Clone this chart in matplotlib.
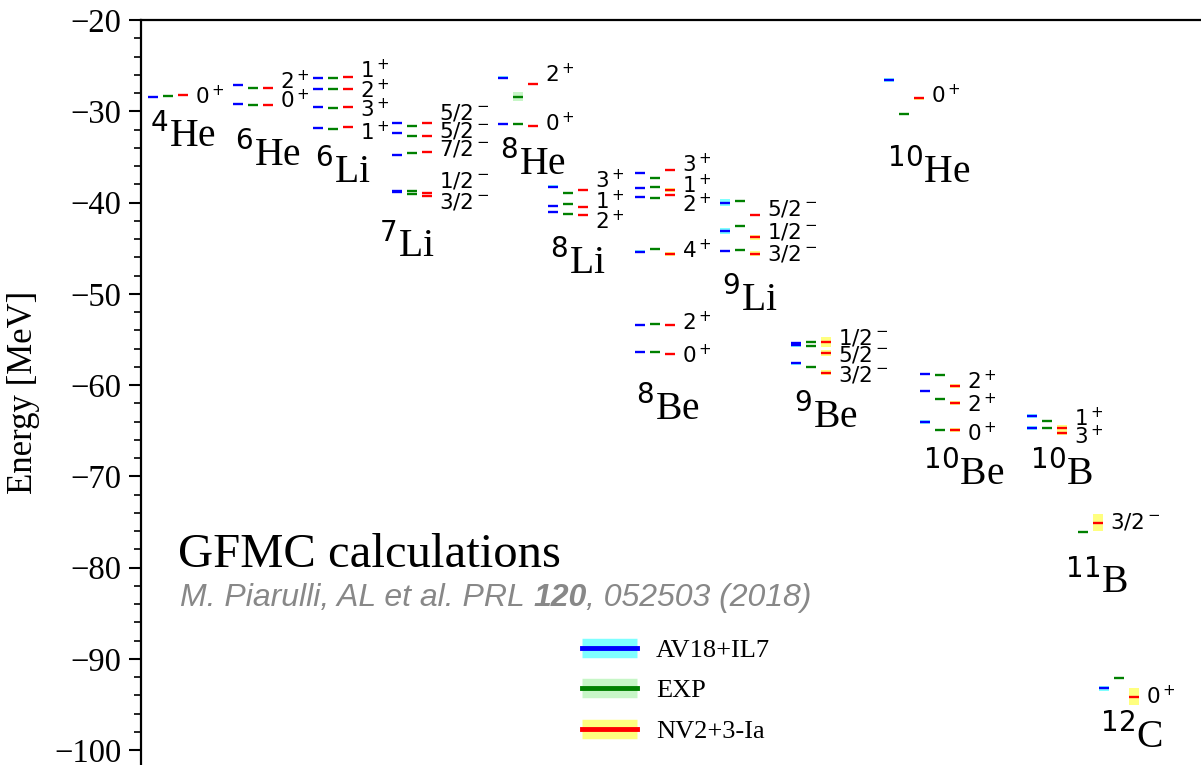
import matplotlib
matplotlib.use("Agg")
import matplotlib.pyplot as plt
from matplotlib.lines import Line2D
from matplotlib.ticker import MultipleLocator

plt.rcParams['font.family'] = 'serif'
plt.rcParams['font.serif'] = ['Liberation Serif', 'DejaVu Serif']
plt.rcParams['mathtext.fontset'] = 'dejavusans'
plt.rcParams['axes.unicode_minus'] = True

# ---------------------------------------------------------------- data (MeV)
nuclei = [r'$^{4}$He', r'$^{6}$He', r'$^{6}$Li', r'$^{7}$Li', r'$^{8}$He',
          r'$^{8}$Li', r'$^{8}$Be', r'$^{9}$Li', r'$^{9}$Be', r'$^{10}$He',
          r'$^{10}$Be', r'$^{10}$B', r'$^{11}$B', r'$^{12}$C']

spins = [
    [r'$0^+$'],
    [r'$2^+$', r'$0^+$'],
    [r'$1^+$', r'$2^+$', r'$3^+$', r'$1^+$'],
    [r'$5/2^-$', r'$5/2^-$', r'$7/2^-$', r'$1/2^-$', r'$3/2^-$'],
    [r'$2^+$', r'$0^+$'],
    [r'$3^+$', r'$1^+$', r'$2^+$'],
    [r'$3^+$', r'$1^+$', r'$2^+$', r'$4^+$', r'$2^+$', r'$0^+$'],
    [r'$5/2^-$', r'$1/2^-$', r'$3/2^-$'],
    [r'$1/2^-$', r'$5/2^-$', r'$3/2^-$'],
    [r'$0^+$'],
    [r'$2^+$', r'$2^+$', r'$0^+$'],
    [r'$1^+$', r'$3^+$'],
    [r'$3/2^-$'],
    [r'$0^+$'],
]

# energies at which the spin-parity tags are written
spin_label_E = [
    [-28.4],
    [-26.76, -28.77],
    [-25.48, -27.75, -29.75, -32.31],
    [-30.16, -32.13, -34.14, -37.64, -39.95],
    [-26.0, -31.3],
    [-37.6, -39.9, -42.05],
    [-35.78, -38.08, -40.16, -45.28, -53.13, -56.71],
    [-40.71, -43.2, -45.68],
    [-54.89, -56.71, -58.9],
    [-28.3],
    [-59.64, -62.12, -65.3],
    [-63.62, -65.67],
    [-74.98],
    [-94.08],
]

# AV18+IL7 GFMC energies and Monte Carlo errors
av18_E = [
    [-28.40],
    [-27.12, -29.21],
    [-26.39, -27.60, -29.57, -31.80],
    [-31.25, -32.42, -34.79, -38.75, -38.90],
    [-26.32, -31.43],
    [-38.27, -40.35, -41.08],
    [-36.80, -38.45, -39.43, -45.39, -53.42, -56.42],
    [-40.02, -43.09, -45.32],
    [-55.45, -55.60, -57.63],
    [-26.58],
    [-58.80, -60.62, -64.02],
    [-63.36, -64.68],
    [],
    [-93.24],
]
av18_err = [
    [0.05],
    [0.05, 0.05],
    [0.05, 0.05, 0.05, 0.05],
    [0.05, 0.12, 0.15, 0.05, 0.05],
    [0.15, 0.05],
    [0.15, 0.05, 0.05],
    [0.05, 0.05, 0.12, 0.15, 0.05, 0.05],
    [0.40, 0.35, 0.05],
    [0.20, 0.20, 0.15],
    [0.20],
    [0.05, 0.05, 0.20],
    [0.20, 0.20],
    [],
    [0.30],
]

# experimental energies and widths
exp_E = [
    [-28.30],
    [-27.42, -29.28],
    [-26.32, -27.60, -29.64, -31.95],
    [-31.62, -32.68, -34.54, -38.70, -39.05],
    [-28.41, -31.43],
    [-39.00, -40.20, -41.30],
    [-37.28, -38.34, -39.54, -45.13, -53.32, -56.42],
    [-39.84, -42.58, -45.21],
    [-55.32, -55.69, -58.07],
    [-30.30],
    [-58.90, -61.53, -64.93],
    [-63.95, -64.68],
    [-76.14],
    [-92.08],
]
exp_err = [
    [0.0],
    [0.0, 0.0],
    [0.0, 0.0, 0.0, 0.0],
    [0.0, 0.0, 0.0, 0.0, 0.0],
    [0.5, 0.0],
    [0.0, 0.0, 0.0],
    [0.0, 0.0, 0.0, 0.0, 0.0, 0.0],
    [0.0, 0.0, 0.0],
    [0.0, 0.0, 0.0],
    [0.0],
    [0.0, 0.0, 0.0],
    [0.0, 0.0],
    [0.0],
    [0.0],
]

# NV2+3-Ia GFMC energies and Monte Carlo errors
nv2_E = [
    [-28.22],
    [-27.40, -29.32],
    [-26.21, -27.60, -29.57, -31.76],
    [-31.32, -32.71, -34.43, -39.00, -39.29],
    [-27.00, -31.62],
    [-38.63, -40.46, -41.37],
    [-36.44, -38.63, -39.18, -45.64, -53.42, -56.64],
    [-41.37, -43.82, -45.60],
    [-55.32, -56.46, -58.65],
    [-28.60],
    [-60.11, -61.94, -64.93],
    [-64.68, -65.23],
    [-75.09],
    [-94.16],
]
nv2_err = [
    [0.05],
    [0.05, 0.05],
    [0.10, 0.05, 0.08, 0.05],
    [0.10, 0.10, 0.05, 0.10, 0.10],
    [0.05, 0.05],
    [0.10, 0.10, 0.05],
    [0.05, 0.20, 0.15, 0.20, 0.10, 0.05],
    [0.10, 0.30, 0.25],
    [0.55, 0.35, 0.30],
    [0.15],
    [0.20, 0.20, 0.25],
    [0.25, 0.25],
    [0.95],
    [0.92],
]

# baseline energy of each nucleus name
name_E = [-33.88, -35.97, -37.86, -45.94, -36.99, -47.84, -63.84,
          -51.86, -64.71, -37.86, -70.96, -70.96, -82.79, -99.78]

# ---------------------------------------------------------------- layout
group_x = [7, 92, 172, 251, 357, 407, 494, 579, 650, 743, 779, 886, 922, 958]
name_dx = [2, 2, 2, -13, 2, 2, 1, 2, 3, 3, 3, 3, 2, 1]
col_w = 10
col_dx = [0, 15, 30]
spin_dx = 47

fig = plt.figure(figsize=(12.01, 7.65), dpi=100)
ax = fig.add_axes([141 / 1201, 0.0, 1060 / 1201, 745 / 765])
ax.set_xlim(0, 1060)
ax.set_ylim(-101.64, -20)

models = [
    (av18_E, av18_err, 'blue', 'cyan'),
    (exp_E, exp_err, 'green', 'lightgreen'),
    (nv2_E, nv2_err, 'red', 'yellow'),
]

for i, gx in enumerate(group_x):
    for (E_all, err_all, lc, bc), dx in zip(models, col_dx):
        x0 = gx + dx
        for e, de in zip(E_all[i], err_all[i]):
            if de > 0:
                ax.bar(x0, 2 * de, bottom=e - de, width=col_w, align='edge',
                       color=bc, alpha=0.5, linewidth=0, zorder=1)
            ax.hlines(e, x0, x0 + col_w, colors=lc, linewidth=1.7, zorder=2)
    for s, le in zip(spins[i], spin_label_E[i]):
        ax.text(gx + spin_dx, le, s, fontsize=15.5, family='DejaVu Sans',
                ha='left', va='center')
    ax.text(gx + name_dx[i], name_E[i], nuclei[i], fontsize=28.5,
            ha='left', va='baseline')

# ---------------------------------------------------------------- axes style
for side in ('right', 'bottom'):
    ax.spines[side].set_visible(False)
for side in ('left', 'top'):
    ax.spines[side].set_linewidth(1.6)
ax.set_xticks([])
ax.yaxis.set_major_locator(MultipleLocator(10))
ax.yaxis.set_minor_locator(MultipleLocator(2))
ax.tick_params(axis='y', which='major', direction='out', length=9, width=1.5,
               labelsize=23.5, pad=5)
ax.tick_params(axis='y', which='minor', direction='out', length=5, width=1.2)
ax.set_ylabel('Energy [MeV]', fontsize=25, labelpad=10)

ax.text(37, -79.95, 'GFMC calculations', fontsize=35, ha='left', va='baseline')

# reference line: italic grey with the volume number in bold
cite_parts = [('M. Piarulli, AL et al. PRL ', 'normal'), ('120', 'bold'),
              (', 052503 (2018)', 'normal')]
fig.canvas.draw()
renderer = fig.canvas.get_renderer()
xpos = 39
for txt, wt in cite_parts:
    t = ax.text(xpos, -84.22, txt, fontsize=23, family='Liberation Sans',
                style='italic', weight=wt, color='#888888',
                ha='left', va='baseline')
    bb = t.get_window_extent(renderer)
    xpos = ax.transData.inverted().transform((bb.x1, bb.y0))[0]

handles = [
    (Line2D([], [], color='cyan', alpha=0.5, lw=14, solid_capstyle='butt'),
     Line2D([], [], color='blue', lw=3.5)),
    (Line2D([], [], color='lightgreen', alpha=0.5, lw=14, solid_capstyle='butt'),
     Line2D([], [], color='green', lw=3.5)),
    (Line2D([], [], color='yellow', alpha=0.5, lw=14, solid_capstyle='butt'),
     Line2D([], [], color='red', lw=3.5)),
]
ax.legend(handles, ['AV18+IL7', 'EXP', 'NV2+3-Ia'], loc='upper left',
          bbox_to_anchor=(0.416, 0.170), frameon=False, fontsize=19,
          handlelength=2.1, handletextpad=0.7, labelspacing=0.65,
          borderpad=0, borderaxespad=0)

fig.savefig('out.png', dpi=100)
